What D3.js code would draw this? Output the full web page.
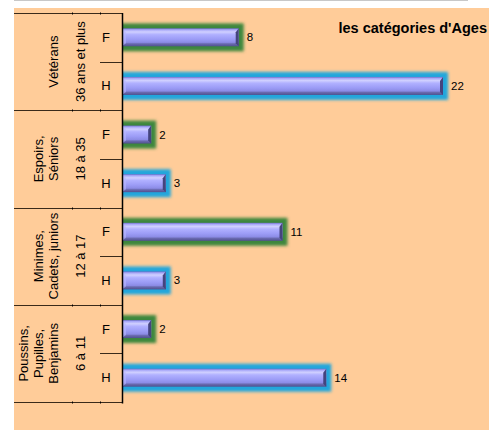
<!DOCTYPE html>
<html>
<head>
  <meta charset="utf-8">
  <script src="https://d3js.org/d3.v7.min.js"></script>
  <style>
    body { margin: 0; background: white; }
    svg text { font-family: "Liberation Sans", Arial, sans-serif; fill: #000; }
  </style>
</head>
<body>
  <svg id="chart" width="489" height="430"></svg>
  <script>
    // categories, top to bottom
    const groupNames = [["Vétérans"], ["Espoirs,", "Séniors"], ["Minimes,", "Cadets, juniors"], ["Poussins,", "Pupilles,", "Benjamins"]];
    const ageRanges = ["36 ans et plus", "18 à 35", "12 à 17", "6 à 11"];
    const sexes = ["F", "H"];
    const femmes = [8, 2, 11, 2];
    const hommes = [22, 3, 3, 14];
    const title = "les catégories d'Ages";

    const svg = d3.select("svg#chart");
    const W = +svg.attr("width"), H = +svg.attr("height");

    // background
    svg.append("rect").attr("x", 14).attr("y", 8).attr("width", W - 14).attr("height", H - 8).style("fill", "#ffcc99");
    svg.append("line").attr("x1", 14).attr("x2", 468).attr("y1", 0.5).attr("y2", 0.5).style("stroke", "#c8c8c8");

    const plotTop = 13, plotBottom = 402, axisX = 122;

    const defs = svg.append("defs");
    const grad = defs.append("linearGradient").attr("id", "barGrad").attr("x1", 0).attr("y1", 0).attr("x2", 0).attr("y2", 1);
    [[0, "#6e6ec8"], [0.08, "#a8a8f8"], [0.2, "#d0d0ff"], [0.35, "#b0b0ff"], [0.6, "#9c9cf6"], [0.78, "#8c8ce6"], [0.86, "#6a6ab0"], [1, "#50508e"]]
      .forEach(s => grad.append("stop").attr("offset", s[0]).attr("stop-color", s[1]));

    defs.append("clipPath").attr("id", "plotClip")
      .append("rect").attr("x", axisX).attr("y", 0).attr("width", W - axisX).attr("height", H);

    function glow(id, color) {
      const f = defs.append("filter").attr("id", id).attr("filterUnits", "userSpaceOnUse")
        .attr("x", 0).attr("y", 0).attr("width", W).attr("height", H);
      f.append("feMorphology").attr("in", "SourceAlpha").attr("operator", "dilate").attr("radius", 5).attr("result", "d");
      f.append("feGaussianBlur").attr("in", "d").attr("stdDeviation", 1.8).attr("result", "b");
      f.append("feFlood").attr("flood-color", color);
      f.append("feComposite").attr("in2", "b").attr("operator", "in");
    }
    glow("glowF", "#3d873d");
    glow("glowH", "#20a6dc");

    // rows
    const rows = [];
    groupNames.forEach((g, i) => {
      rows.push({ group: i, sex: "F", value: femmes[i], key: i + "F" });
      rows.push({ group: i, sex: "H", value: hommes[i], key: i + "H" });
    });

    const y = d3.scaleBand().domain(rows.map(d => d.key)).range([plotTop, plotBottom]);
    const yGroup = d3.scaleBand().domain(d3.range(groupNames.length)).range([plotTop, plotBottom]);
    const x = d3.scaleLinear().domain([0, 22]).range([axisX, 443]);

    const barH = 18;

    // bars
    const bars = svg.append("g").attr("clip-path", "url(#plotClip)");
    rows.forEach(d => {
      const cy = y(d.key) + y.bandwidth() / 2;
      const x1 = x(d.value);
      bars.append("rect")
        .attr("x", axisX).attr("y", cy - barH / 2)
        .attr("width", x1 - axisX).attr("height", barH)
        .attr("filter", d.sex === "F" ? "url(#glowF)" : "url(#glowH)");
      bars.append("rect")
        .attr("x", axisX).attr("y", cy - barH / 2)
        .attr("width", x1 - axisX).attr("height", barH)
        .style("fill", "url(#barGrad)");
      // bevel at the ends
      bars.append("polygon")
        .attr("points", [[x1 - 3, cy - barH / 2 + 4], [x1, cy - barH / 2], [x1, cy + barH / 2], [x1 - 3, cy + barH / 2 - 3]].join(" "))
        .style("fill", "#44447e");
      bars.append("polygon")
        .attr("points", [[axisX, cy - barH / 2], [axisX + 4, cy - barH / 2 + 4], [axisX + 4, cy + barH / 2 - 3], [axisX, cy + barH / 2]].join(" "))
        .style("fill", "#b8b8ff").style("opacity", 0.6);
      svg.append("text")
        .attr("x", x1 + 8).attr("y", cy + 4)
        .style("font-size", "11.5px")
        .text(d.value);
    });

    // category axis lines
    const ax = svg.append("g").style("stroke", "#3a2a1a").style("stroke-width", 1);
    d3.range(groupNames.length + 1).forEach(i => {
      const yy = Math.round(i < groupNames.length ? yGroup(i) : plotBottom) + 0.5;
      ax.append("line").attr("x1", 14).attr("x2", axisX).attr("y1", yy).attr("y2", yy);
      [72, 100].forEach(xx => ax.append("line").attr("x1", xx + 0.5).attr("x2", xx + 0.5).attr("y1", yy - 1).attr("y2", yy + 1).style("stroke", "#000"));
    });
    groupNames.forEach((g, i) => {
      const yy = Math.round(y(i + "H")) + 0.5;
      ax.append("line").attr("x1", 100).attr("x2", axisX).attr("y1", yy).attr("y2", yy);
    });
    svg.append("line").attr("x1", axisX + 0.5).attr("x2", axisX + 0.5).attr("y1", plotTop).attr("y2", plotBottom + 1.5)
      .style("stroke", "#000").style("stroke-width", 1.5);

    // labels
    rows.forEach(d => {
      svg.append("text")
        .attr("x", 106).attr("y", y(d.key) + y.bandwidth() / 2 + 4.5)
        .attr("text-anchor", "middle").style("font-size", "13px")
        .text(d.sex);
    });
    groupNames.forEach((lines, i) => {
      const cy = yGroup(i) + yGroup.bandwidth() / 2;
      const n = lines.length;
      lines.forEach((t, j) => {
        const cx = 53 - (n - 1 - j) * 15;
        svg.append("text")
          .attr("transform", `translate(${cx + 4.5},${cy}) rotate(-90)`)
          .attr("text-anchor", "middle").style("font-size", "13px")
          .text(t);
      });
      svg.append("text")
        .attr("transform", `translate(${80 + 4.5},${cy}) rotate(-90)`)
        .attr("text-anchor", "middle").style("font-size", "13px")
        .text(ageRanges[i]);
    });

    svg.append("text")
      .attr("x", 487).attr("y", 33).attr("text-anchor", "end")
      .style("font-size", "14.5px").style("font-weight", "bold")
      .text(title);
  </script>
</body>
</html>
